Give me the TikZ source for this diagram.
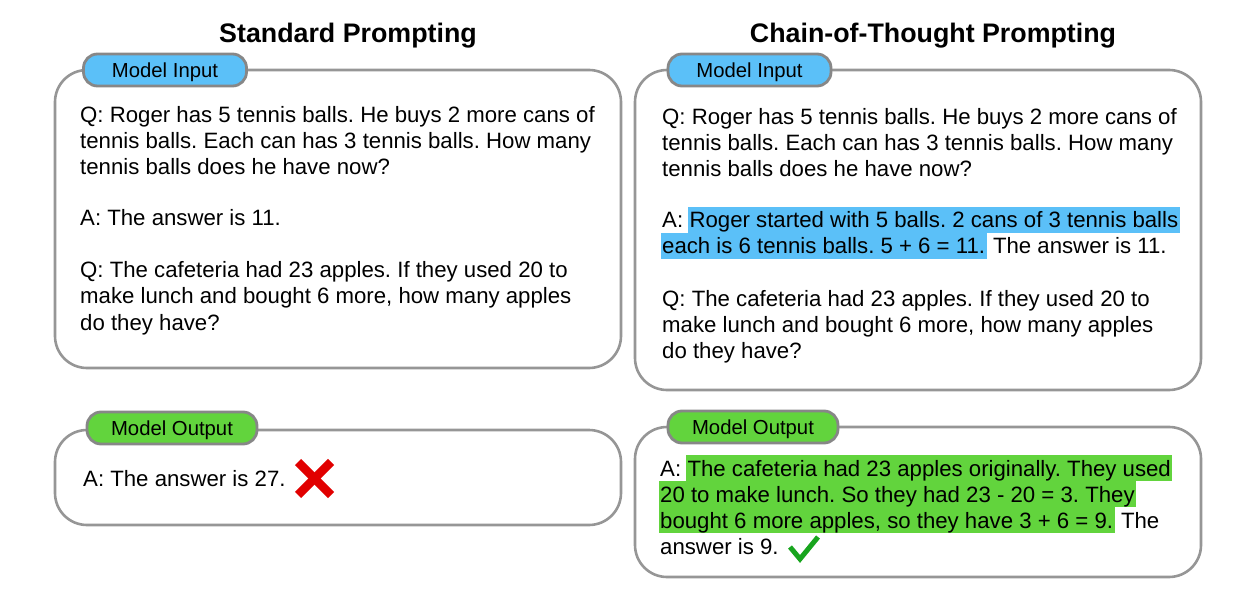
\documentclass[tikz,border=0pt]{standalone}
\usepackage{fontspec}
\setmainfont{Liberation Sans}
\frenchspacing
\definecolor{boxgray}{RGB}{150,150,150}
\definecolor{pillgray}{RGB}{135,135,135}
\definecolor{cotblue}{RGB}{91,192,248}
\definecolor{cotgreen}{RGB}{98,212,61}
\definecolor{crossred}{RGB}{225,0,0}
\definecolor{checkgreen}{RGB}{24,165,30}
\begin{document}
\begin{tikzpicture}[x=1pt,y=-1pt,
  panel/.style={draw=boxgray,line width=2.6pt,rounded corners=32pt,fill=white,inner sep=0pt},
  pill/.style={draw=pillgray,line width=2.8pt,rounded corners=14pt,minimum height=32pt,inner sep=0pt,text height=16pt,text depth=1pt,font=\fontsize{20.3}{22}\selectfont},
  inpill/.style={pill,fill=cotblue},
  outpill/.style={pill,fill=cotgreen},
  title/.style={anchor=base,font=\fontsize{26.8}{30}\selectfont\bfseries},
  txt/.style={anchor=base west,inner sep=0pt,font=\fontsize{22.2}{26}\selectfont\frenchspacing,text height=21pt,text depth=5pt},
  hlb/.style={txt,fill=cotblue,inner xsep=1.5pt},
  hlg/.style={txt,fill=cotgreen,inner xsep=1.5pt}]
\useasboundingbox (0,0) rectangle (1238,601);
% titles
\node[title] (t1) at (348,43) {Standard Prompting};
\node[title] (t2) at (933,43) {Chain-of-Thought Prompting};
% panels
\node[panel,minimum width=566pt,minimum height=298pt] (lin) at (338,219) {};
\node[panel,minimum width=566pt,minimum height=95pt] (lout) at (338,477.5) {};
\node[panel,minimum width=566pt,minimum height=320pt] (rin) at (918,230) {};
\node[panel,minimum width=566pt,minimum height=150pt] (rout) at (918,502) {};
% pills
\node[inpill,minimum width=163pt] (lpi) at (165,70) {Model Input};
\node[outpill,minimum width=170pt] (lpo) at (172,428) {Model Output};
\node[inpill,minimum width=163pt] (rpi) at (749.5,70) {Model Input};
\node[outpill,minimum width=170pt] (rpo) at (753,427) {Model Output};
% left input text
\node[txt] (l1) at (80,123) {Q: Roger has 5 tennis balls. He buys 2 more cans of};
\node[txt] (l2) at (80,149) {tennis balls. Each can has 3 tennis balls. How many};
\node[txt] (l3) at (80,175) {tennis balls does he have now?};
\node[txt] (l4) at (80,226) {A: The answer is 11.};
\node[txt] (l5) at (80,278) {Q: The cafeteria had 23 apples. If they used 20 to};
\node[txt] (l6) at (80,304) {make lunch and bought 6 more, how many apples};
\node[txt] (l7) at (80,330) {do they have?};
% left output
\node[txt] (lo1) at (83,486) {A: The answer is 27.};
\draw[crossred,line width=8.5pt] (298,462) coordinate (c1) -- (331,495) coordinate (c2);
\draw[crossred,line width=8.5pt] (331,462) coordinate (c3) -- (298,495) coordinate (c4);
% right input text
\node[txt] (r1) at (662,125) {Q: Roger has 5 tennis balls. He buys 2 more cans of};
\node[txt] (r2) at (662,151) {tennis balls. Each can has 3 tennis balls. How many};
\node[txt] (r3) at (662,177) {tennis balls does he have now?};
\node[txt] (r4a) at (662,228) {A:};
\node[hlb] (r4b) at ([xshift=4.5pt]r4a.base east) {Roger started with 5 balls. 2 cans of 3 tennis balls};
\node[hlb] (r5a) at (660.5,254) {each is 6 tennis balls. 5 + 6 = 11.};
\node[txt] (r5b) at ([xshift=6pt]r5a.base east) {The answer is 11.};
\node[txt] (r6) at (662,306) {Q: The cafeteria had 23 apples. If they used 20 to};
\node[txt] (r7) at (662,332) {make lunch and bought 6 more, how many apples};
\node[txt] (r8) at (662,358) {do they have?};
% right output text
\node[txt] (o1a) at (660,476) {A:};
\node[hlg] (o1b) at ([xshift=4.5pt]o1a.base east) {The cafeteria had 23 apples originally. They used\hspace{3pt}};
\node[hlg] (o2) at (658.5,502) {20 to make lunch. So they had 23 - 20 = 3. They\hspace{3pt}};
\node[hlg] (o3a) at (658.5,528) {bought 6 more apples, so they have 3 + 6 = 9.};
\node[txt] (o3b) at ([xshift=6pt]o3a.base east) {The};
\node[txt] (o4) at (660,554) {answer is 9.};
\draw[checkgreen,line width=5pt,line join=miter] (790,547) coordinate (k1) -- (800,559) coordinate (k2) -- (818,537) coordinate (k3);
\end{tikzpicture}
\end{document}
